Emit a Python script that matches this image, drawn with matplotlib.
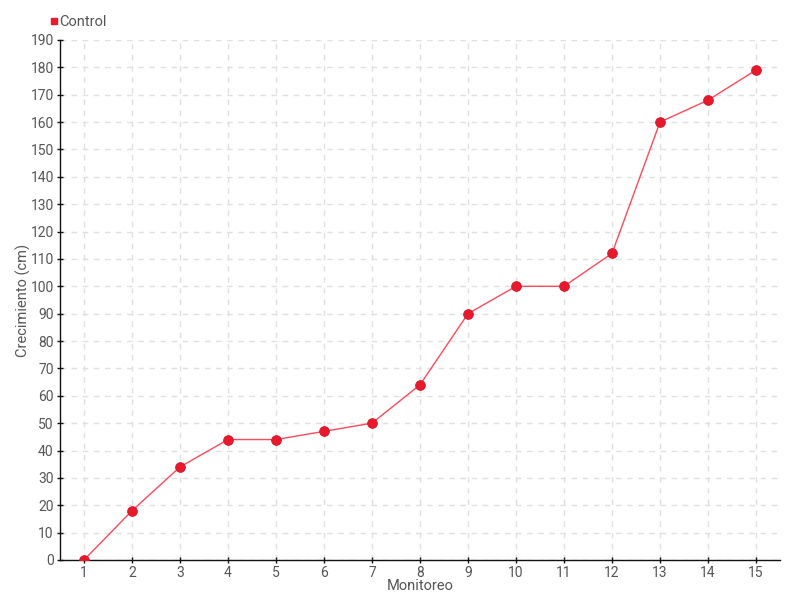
import matplotlib
matplotlib.use("Agg")
import matplotlib.pyplot as plt
from matplotlib.lines import Line2D

monitoreo = list(range(1, 16))
control = [0, 18, 34, 44, 44, 47, 50, 64, 90, 100, 100, 112, 160, 168, 179]
y_ticks = list(range(0, 200, 10))

plt.rcParams['font.family'] = ["Roboto", "DejaVu Sans"]

fig = plt.figure(figsize=(8, 6), dpi=100)
ax = fig.add_axes([0.075, 0.0667, 0.9, 0.8667])

ax.plot(monitoreo, control, color="#ff4a5a", lw=1, zorder=3)
ax.plot(monitoreo, control, ls="none", marker="o", ms=7, color="#e8192c",
        markeredgecolor="#d81426", markeredgewidth=0.6, zorder=4)

ax.set_xlim(0.5, 15.5)
ax.set_ylim(0, 190)
ax.set_xticks(monitoreo)
ax.set_yticks(y_ticks)
ax.grid(True, ls=(0, (4, 4)), color="#e0e0e0", lw=1)
ax.set_axisbelow(True)
for s in ["top", "right"]:
    ax.spines[s].set_visible(False)
for s in ["left", "bottom"]:
    ax.spines[s].set_color("#111111")
    ax.spines[s].set_linewidth(1)
ax.tick_params(direction="inout", length=5, width=1, color="#111111",
               labelcolor="#555555", labelsize=10, pad=2)
ax.set_xlabel("Monitoreo", color="#555555", fontsize=10.5, labelpad=-1)
ax.set_ylabel("Crecimiento (cm)", color="#555555", fontsize=10.5)
ax.yaxis.set_label_coords(-0.040, 0.5)

handle = Line2D([], [], ls="none", marker="s", ms=5, color="#e8192c")
fig.legend([handle], ["Control"], loc="upper left", bbox_to_anchor=(0.056, 0.985),
           frameon=False, handlelength=0.4, handletextpad=0.2,
           borderaxespad=0, fontsize=10.5, labelcolor="#555555")

fig.savefig("out.png", dpi=100, facecolor="white")
